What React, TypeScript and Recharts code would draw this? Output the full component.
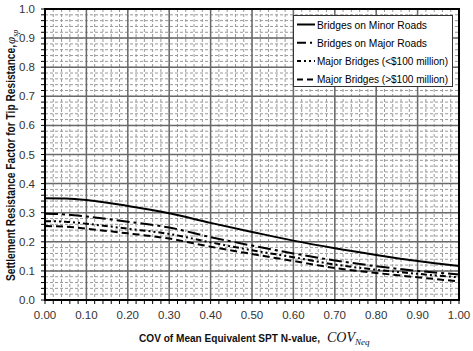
import { LineChart, Line, XAxis, YAxis, CartesianGrid, Legend, ReferenceArea } from 'recharts';

// COV of mean equivalent SPT N-value
const covValues = [0, 0.05, 0.1, 0.2, 0.3, 0.4, 0.5, 0.6, 0.7, 0.8, 0.9, 1.0];

// settlement resistance factor
const minorRoads = [0.350, 0.349, 0.344, 0.323, 0.298, 0.265, 0.234, 0.204, 0.178, 0.155, 0.134, 0.117];
const majorRoads = [0.296, 0.294, 0.287, 0.269, 0.249, 0.216, 0.187, 0.160, 0.136, 0.116, 0.100, 0.088];
const under100M = [0.271, 0.269, 0.262, 0.245, 0.227, 0.198, 0.171, 0.147, 0.122, 0.104, 0.090, 0.078];
const over100M = [0.254, 0.252, 0.245, 0.229, 0.211, 0.183, 0.158, 0.134, 0.110, 0.093, 0.078, 0.064];

const majorTicks = [0, 0.1, 0.2, 0.3, 0.4, 0.5, 0.6, 0.7, 0.8, 0.9, 1.0];
// minor ticks every 0.02
const minorTicks = Array.from({ length: 51 }, (_, i) => i / 50);

const seriesInfo = [
  { key: 'minorRoads', name: 'Bridges on Minor Roads', dash: undefined, legendDash: undefined, textLen: 110 },
  { key: 'majorRoads', name: 'Bridges on Major Roads', dash: '13 4 3 4', legendDash: '9 4 2 3', textLen: 110 },
  { key: 'under100M', name: 'Major Bridges (<$100 million)', dash: '6 3 2 3 2 3', legendDash: '4 3 2 3 2 3', textLen: 131 },
  { key: 'over100M', name: 'Major Bridges (>$100 million)', dash: '7 4', legendDash: '6 4', textLen: 131 },
];

const chartData = covValues.map((cov, i) => ({
  cov,
  minorRoads: minorRoads[i],
  majorRoads: majorRoads[i],
  under100M: under100M[i],
  over100M: over100M[i],
}));

const FONT = 'Liberation Sans, Arial, sans-serif';

const isMajor = (v: number) => Math.round(v * 50) % 5 === 0;

const LegendBox = () => (
  <svg width={161} height={73} style={{ display: 'block' }}>
    <rect x={0.5} y={0.5} width={159} height={71} fill="#fff" stroke="#333" />
    {seriesInfo.map((s, i) => {
      const cy = 9.5 + i * 18.3;
      return (
        <g key={s.key}>
          <line x1={4} x2={22} y1={cy} y2={cy} stroke="#000" strokeWidth={2} strokeDasharray={s.legendDash} />
          <text
            x={24}
            y={cy + 4}
            fontSize={10.2}
            fontFamily={FONT}
            fill="#000"
            textLength={s.textLen}
            lengthAdjust="spacingAndGlyphs"
          >
            {s.name}
          </text>
        </g>
      );
    })}
  </svg>
);

const XTitle = (props: any) => {
  const { viewBox } = props;
  const cx = viewBox.x + viewBox.width / 2;
  const y = viewBox.y + 41.5;
  return (
    <g>
      <text
        x={cx - 113}
        y={y}
        fontSize={10.2}
        fontWeight="bold"
        fontFamily={FONT}
        fill="#111"
        textLength={181}
        lengthAdjust="spacingAndGlyphs"
      >
        COV of Mean Equivalent SPT N-value,
      </text>
      <text x={cx + 75} y={y} fontFamily="Liberation Serif, Times New Roman, serif" fontStyle="italic" fontSize={14} fill="#111">
        COV
        <tspan fontSize={9} dy={3}>Neq</tspan>
      </text>
    </g>
  );
};

const YTitle = (props: any) => {
  const { viewBox } = props;
  const bottom = viewBox.y + viewBox.height;
  const bx = viewBox.x + 15;
  return (
    <g>
      <text
        transform={`translate(${bx}, ${bottom - 19}) rotate(-90)`}
        fontSize={12}
        fontWeight="bold"
        fontFamily={FONT}
        fill="#111"
        textLength={236}
        lengthAdjust="spacingAndGlyphs"
      >
        Settlement Resistance Factor for Tip Resistance,
      </text>
      <text
        transform={`translate(${bx}, ${viewBox.y + 35}) rotate(-90)`}
        fontFamily="Liberation Serif, Times New Roman, serif"
        fontStyle="italic"
        fontSize={13}
        fill="#111"
      >
        φ
        <tspan fontSize={8} dy={3}>sp</tspan>
      </text>
    </g>
  );
};

export default function App() {
  return (
    <div style={{ position: 'absolute', left: 0, top: 0, width: 473, height: 351, background: '#fff' }}>
      <LineChart width={473} height={351} data={chartData} margin={{ top: 9, right: 14, left: 0, bottom: 0 }}>
        <CartesianGrid stroke="#9a9a9a" strokeDasharray="3 2" />
        <CartesianGrid stroke="#6a6a6a" strokeWidth={1.5} horizontalValues={majorTicks} verticalValues={majorTicks} />
        <XAxis
          dataKey="cov"
          type="number"
          domain={[0, 1]}
          ticks={minorTicks}
          interval={0}
          tickFormatter={(v: number) => (isMajor(v) ? v.toFixed(2) : '')}
          tick={{ fontSize: 11.5, fill: '#333', fontFamily: FONT }}
          tickSize={4}
          tickMargin={7}
          height={51}
          axisLine={{ stroke: '#000', strokeWidth: 2 }}
          tickLine={{ stroke: '#000' }}
          label={<XTitle />}
        />
        <YAxis
          type="number"
          domain={[0, 1]}
          ticks={minorTicks}
          interval={0}
          tickFormatter={(v: number) => (isMajor(v) ? v.toFixed(1) : '')}
          tick={{ fontSize: 11.5, fill: '#333', fontFamily: FONT }}
          tickSize={4}
          tickMargin={6}
          width={45}
          axisLine={{ stroke: '#000', strokeWidth: 2 }}
          tickLine={{ stroke: '#000' }}
          label={<YTitle />}
        />
        {seriesInfo.map((s) => (
          <Line
            key={s.key}
            type="monotone"
            dataKey={s.key}
            name={s.name}
            stroke="#000"
            strokeWidth={2}
            strokeDasharray={s.dash}
            dot={false}
            activeDot={false}
            isAnimationActive={false}
          />
        ))}
        <ReferenceArea x1={0} x2={1} y1={0} y2={1} fill="none" fillOpacity={0} stroke="#000" strokeWidth={2} />
        <Legend
          layout="horizontal"
          verticalAlign="middle"
          align="center"
          content={<LegendBox />}
          wrapperStyle={{ position: 'absolute', left: 293, top: 15, width: 161, height: 73 }}
        />
      </LineChart>
    </div>
  );
}
